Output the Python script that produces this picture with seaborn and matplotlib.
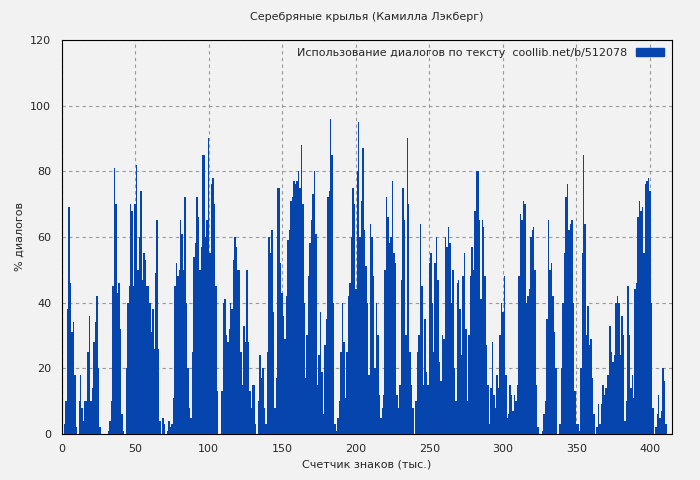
import numpy as np
import pandas as pd
import matplotlib
matplotlib.use("Agg")
import matplotlib.pyplot as plt
import matplotlib.patches as mpatches
import seaborn as sns

# % of dialogue per 1k characters (x = 0..412)
seg_0_107 = [0, 0, 3, 10, 38, 69, 46, 31, 34, 18, 2, 0,
             10, 18, 8, 4, 10, 10, 25, 36, 10, 14, 28, 34, 42, 20, 2, 0, 0,
             0, 0, 0, 1, 4, 10, 45, 81, 70, 43, 46, 32, 6, 1, 0,
             20, 40, 45, 70, 68, 45, 70, 82, 50, 60, 74, 47, 55, 53, 45, 45, 40, 31, 38, 26, 49, 65, 26, 4,
             0, 5, 3, 0, 1, 4, 2, 3, 11, 45, 52, 48, 50, 65, 61, 50, 72, 40, 20, 8, 5, 25, 54, 58, 72, 66,
             50, 57, 85, 85, 60, 65, 90, 55, 76,
             78, 70, 45, 13, 0]
seg_108_210 = [0, 13, 40, 41, 30, 28, 32, 40, 38, 53, 60, 57, 50, 50, 25, 15, 33, 28, 50, 28,
               13, 8, 15, 15, 3, 0, 10, 24, 17, 20, 8, 3, 25, 60, 55, 62, 37, 8, 17, 75,
               75, 52, 43, 36, 29, 42, 59, 62, 71, 72, 77, 76, 77, 80, 75, 88, 70, 40, 17, 30,
               48, 58, 65, 73, 80, 61, 15, 24, 37, 19, 6, 27, 35, 72, 74, 96, 85, 40, 3, 1,
               5, 10, 25, 40, 28, 11, 25, 42, 46, 60, 75, 70, 44, 80, 95, 60, 71, 87, 62, 51,
               40, 18, 64]
seg_211_314 = [60, 48, 20, 40, 30, 12, 5, 8, 12, 50, 72, 66, 58, 60, 77, 55, 52, 12, 8, 15,
               47, 75, 65, 30, 90, 70, 25, 15, 8, 0, 10, 25, 30, 64, 45, 15, 35, 19, 15, 52,
               55, 40, 25, 52, 60, 47, 22, 16, 30, 29, 60, 57, 63, 58, 40, 50, 20, 10, 46, 47,
               38, 24, 48, 55, 32, 10, 30, 48, 57, 50, 68, 80, 80, 65, 41, 65, 63, 48, 27, 15,
               3, 14, 28, 12, 8, 18, 14, 30, 40, 37, 48, 18, 5, 6, 15, 12, 7, 12, 10, 15,
               48, 67, 65, 71]
seg_315_412 = [70, 40, 42, 44, 60, 62, 63, 50, 15, 2, 0, 0, 1, 6, 10, 35, 65, 50, 52, 42,
               31, 20, 0, 0, 3, 20, 40, 55, 72, 76, 62, 64, 65, 40, 13, 3, 3, 1, 20, 55,
               85, 64, 30, 39, 27, 29, 17, 6, 0, 2, 9, 3, 9, 15, 12, 14, 18, 18, 33, 25,
               22, 24, 40, 42, 40, 24, 36, 30, 4, 10, 45, 30, 14, 18, 11, 44, 46, 66, 71, 68,
               69, 55, 76, 77, 78, 74, 40, 8, 0, 2, 6, 12, 5, 7, 20, 16, 3, 0]

values = seg_0_107 + seg_108_210 + seg_211_314 + seg_315_412
df = pd.DataFrame({"k": np.arange(len(values)), "pct": values})

BG = "#f2f2f2"
BLUE = "#0645ad"

sns.set_style("white")
plt.rcParams["font.family"] = ["DejaVu Sans"]

fig, ax = plt.subplots(figsize=(7, 4.8), dpi=100)
fig.patch.set_facecolor(BG)
ax.set_facecolor(BG)

sns.barplot(data=df, x="k", y="pct", native_scale=True, width=1.0,
            color=BLUE, saturation=1, linewidth=0, ax=ax, zorder=3)

ax.set_xlim(0, 415)
ax.set_ylim(0, 120)
ax.set_xticks(range(0, 401, 50))
ax.set_yticks(range(0, 121, 20))
ax.grid(True, linestyle=(0, (3, 3)), color="#999999", linewidth=0.8, zorder=0)
for s in ax.spines.values():
    s.set_color("black")
ax.tick_params(labelsize=8, length=4, direction="out")

ax.set_title("Серебряные крылья (Камилла Лэкберг)", fontsize=8, pad=14)
ax.set_xlabel("Счетчик знаков (тыс.)", fontsize=8)
ax.set_ylabel("% диалогов", fontsize=8)

handle = mpatches.Patch(color=BLUE)
ax.legend([handle], ["Использование диалогов по тексту  coollib.net/b/512078"],
          loc="upper right", fontsize=8, frameon=False, handlelength=2.5,
          markerfirst=False, borderaxespad=0.3)

plt.subplots_adjust(left=0.088, right=0.96, top=0.917, bottom=0.096)
fig.savefig("out.png", dpi=100, facecolor=BG)
